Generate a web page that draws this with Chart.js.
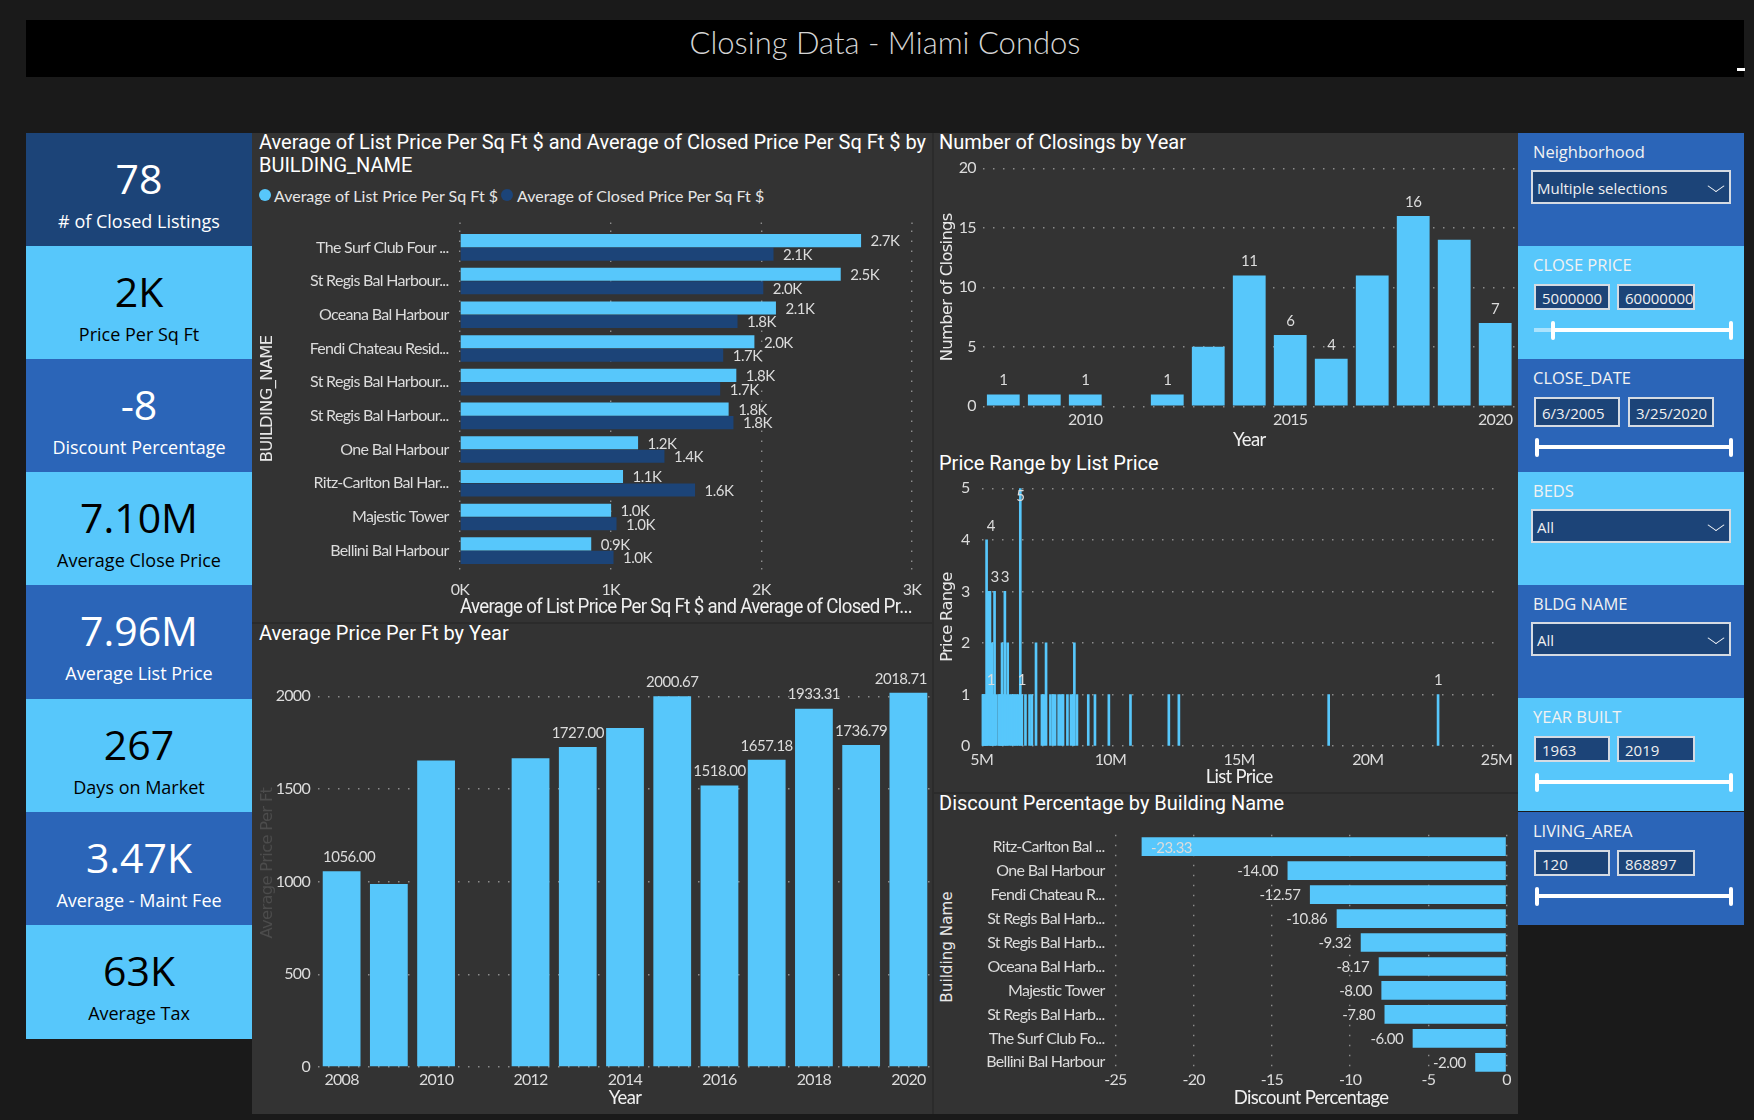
<!DOCTYPE html>
<html>
<head>
<meta charset="utf-8">
<title>Closing Data - Miami Condos</title>
<script src="https://cdn.jsdelivr.net/npm/chart.js@4"></script>
<style>
    html, body { margin: 0; width: 1754px; height: 1120px; overflow: hidden; background: #1a1a1a; }
    body { position: relative; font-family: "Open Sans", sans-serif; color: #fff; }
    div, canvas { position: absolute; box-sizing: border-box; }
    #header { left: 26px; top: 20px; width: 1718px; height: 57px; background: #000; color: #d4d4d4;
        font: 300 31px Lato, sans-serif; text-align: center; line-height: 45px; }
    #panel { left: 252px; top: 133px; width: 1266px; height: 981px; background: #333; }
    .rule { background: #2b2b2b; }
    .kpi { left: 26px; width: 226px; height: 114px; text-align: center; }
    .kpi .num { left: 0; right: 0; top: 17px; font-size: 41px; line-height: 56px; }
    .kpi .cap { left: 0; right: 0; top: 76px; font-size: 18px; line-height: 24px; }
    .title { font: 400 20px Roboto, sans-serif; color: #fff; white-space: nowrap; line-height: 22px; }
    .legend { font: 16px Lato, sans-serif; color: #e6e6e6; white-space: nowrap; }
    .dot { width: 12px; height: 12px; border-radius: 6px; }
    .slicer { left: 1518px; width: 226px; height: 113px; }
    .box { background: #1c4478; border: 2px solid #d5dbe3; font-size: 15px; padding-left: 4px; color: #f0f0f0; white-space: nowrap; overflow: hidden; }
    .track { height: 4px; background: #fff; }
    .handle { width: 4px; height: 19px; background: #fff; border-radius: 2px; }
</style>
</head>
<body>
<div id="panel"></div>
<div id="header">Closing Data - Miami Condos</div>
<div style="left:1737px;top:68px;width:8px;height:3px;background:#fff"></div>

<script>
// data
const kpiValues = ['78', '2K', '-8', '7.10M', '7.96M', '267', '3.47K', '63K'];
const kpiCaptions = ['# of Closed Listings', 'Price Per Sq Ft', 'Discount Percentage', 'Average Close Price', 'Average List Price', 'Days on Market', 'Average - Maint Fee', 'Average Tax'];

const buildingNames = ['The Surf Club Four ...', 'St Regis Bal Harbour...', 'Oceana Bal Harbour', 'Fendi Chateau Resid...', 'St Regis Bal Harbour...', 'St Regis Bal Harbour...', 'One Bal Harbour', 'Ritz-Carlton Bal Har...', 'Majestic Tower', 'Bellini Bal Harbour'];
const listPricePerSqFt = [2662, 2527, 2097, 1954, 1834, 1783, 1182, 1082, 1003, 871];
const closedPricePerSqFt = [2081, 2013, 1842, 1747, 1727, 1815, 1357, 1560, 1039, 1019];

const years = [2008, 2009, 2010, 2011, 2012, 2013, 2014, 2015, 2016, 2017, 2018, 2019, 2020];
const avgPricePerFt = [1056, 987, 1653, null, 1665, 1727, 1829, 2000.67, 1518, 1657.18, 1933.31, 1736.79, 2018.71];
const avgPriceLabels = ['1056.00', null, null, null, null, '1727.00', null, '2000.67', '1518.00', '1657.18', '1933.31', '1736.79', '2018.71'];
const avgPriceTicks = [0, 500, 1000, 1500, 2000];
const closingCounts = [1, 1, 1, 0, 1, 5, 11, 6, 4, 11, 16, 14, 7];
const closingLabels = ['1', null, '1', null, '1', null, '11', '6', '4', null, '16', null, '7'];

// list price in millions and number of listings at that price
const listPrices = [5.00, 5.04, 5.08, 5.12, 5.16, 5.19, 5.25, 5.32, 5.36, 5.40, 5.45, 5.50, 5.56, 5.66, 5.70, 5.75, 5.79, 5.83, 5.90, 5.96, 6.01, 6.10, 6.17, 6.23, 6.30, 6.36, 6.43, 6.50, 6.56, 6.70, 6.86, 6.95, 7.11, 7.34, 7.41, 7.50, 7.67, 7.77, 7.85, 7.99, 8.08, 8.16, 8.33, 8.47, 8.56, 8.60, 8.70, 9.14, 9.40, 9.94, 10.78, 12.27, 12.66, 18.48, 22.73];
const priceRangeCounts = [1, 1, 1, 1, 1, 4, 3, 3, 1, 2, 1, 3, 1, 1, 1, 1, 2, 1, 3, 1, 2, 1, 1, 1, 1, 1, 1, 5, 1, 1, 1, 1, 2, 1, 1, 2, 1, 1, 1, 1, 1, 1, 1, 1, 1, 2, 1, 1, 1, 1, 1, 1, 1, 1, 1];
const priceRangeLabels = { 2: '1', 5: '4', 11: '3', 18: '3', 27: '5', 28: '1', 54: '1' };

const discountBuildings = ['Ritz-Carlton Bal ...', 'One Bal Harbour', 'Fendi Chateau R...', 'St Regis Bal Harb...', 'St Regis Bal Harb...', 'Oceana Bal Harb...', 'Majestic Tower', 'St Regis Bal Harb...', 'The Surf Club Fo...', 'Bellini Bal Harbour'];
const discountValues = [-23.33, -14, -12.57, -10.86, -9.32, -8.17, -8, -7.8, -6, -2];

const LIGHT = '#57c7fb', NAVY = '#1c4478', MID = '#2b65b8';
const LABEL_FONT = 'Lato, sans-serif';
const WIDE = '"DejaVu Sans", sans-serif';

// html helpers
function addDiv(className, css, text) {
    const el = document.createElement('div');
    el.className = className;
    el.style.cssText = css;
    if (text !== undefined) el.textContent = text;
    document.body.appendChild(el);
    return el;
}

// kpi cards
const kpiColors = [NAVY, LIGHT, MID, LIGHT, MID, LIGHT, MID, LIGHT];
kpiValues.forEach((value, i) => {
    const dark = kpiColors[i] === LIGHT;
    const card = addDiv('kpi', `top:${133 + i * 113.1}px;background:${kpiColors[i]};color:${dark ? '#000' : '#fff'}`);
    card.innerHTML = `<div class="num">${value}</div><div class="cap">${kpiCaptions[i]}</div>`;
});

// panel dividers
addDiv('rule', 'left:932px;top:133px;width:2px;height:981px');
addDiv('rule', 'left:252px;top:622px;width:681px;height:2px');
addDiv('rule', 'left:933px;top:792px;width:585px;height:2px');

// panel titles and legend
addDiv('title', 'left:259px;top:131px', 'Average of List Price Per Sq Ft $ and Average of Closed Price Per Sq Ft $ by');
addDiv('title', 'left:259px;top:154px', 'BUILDING_NAME');
addDiv('title', 'left:259px;top:622px', 'Average Price Per Ft by Year');
addDiv('title', 'left:939px;top:131px', 'Number of Closings by Year');
addDiv('title', 'left:939px;top:452px', 'Price Range by List Price');
addDiv('title', 'left:939px;top:792px', 'Discount Percentage by Building Name');
addDiv('dot', `left:259px;top:189px;background:${LIGHT}`);
addDiv('legend', 'left:274px;top:186px', 'Average of List Price Per Sq Ft $');
addDiv('dot', `left:501px;top:189px;background:${NAVY}`);
addDiv('legend', 'left:517px;top:186px', 'Average of Closed Price Per Sq Ft $');

// this axis title sits above the middle of its plot
addDiv('', `left:947px;top:947px;font:15.2px ${WIDE};color:#e8e8e8;white-space:nowrap;transform:translate(-50%,-50%) rotate(-90deg)`, 'Building Name');

// slicers
const slicers = [
    { name: 'Neighborhood', top: 133, color: MID, drop: 'Multiple selections' },
    { name: 'CLOSE PRICE', top: 246, color: LIGHT, inputs: ['5000000', '60000000'], handle: 1553 },
    { name: 'CLOSE_DATE', top: 359, color: MID, inputs: ['6/3/2005', '3/25/2020'], wide: true },
    { name: 'BEDS', top: 472, color: LIGHT, drop: 'All' },
    { name: 'BLDG NAME', top: 585, color: MID, drop: 'All' },
    { name: 'YEAR BUILT', top: 698, color: LIGHT, inputs: ['1963', '2019'] },
    { name: 'LIVING_AREA', top: 812, color: MID, inputs: ['120', '868897'] },
];
slicers.forEach(s => {
    addDiv('slicer', `top:${s.top}px;background:${s.color}`);
    addDiv('', `left:1533px;top:${s.top + 8}px;font-size:16.5px;line-height:22px;color:#f2f2f2;white-space:nowrap`, s.name);
    if (s.drop) {
        addDiv('box', `left:1531px;top:${s.top + 37}px;width:200px;height:34px;line-height:32px`, s.drop);
        addDiv('', `left:1710px;top:${s.top + 47}px;width:12px;height:12px;border-right:1.5px solid #fff;border-bottom:1.5px solid #fff;transform:scaleY(.7) rotate(45deg)`);
    } else {
        const w1 = s.wide ? 86 : 76, w2 = s.wide ? 86 : 78, gap = s.wide ? 8 : 7, h = s.wide ? 30 : 26;
        const css = `top:${s.top + 38}px;height:${h}px;line-height:${h - 2}px;padding-left:6px`;
        addDiv('box', `left:1534px;width:${w1}px;${css}`, s.inputs[0]);
        addDiv('box', `left:${1534 + w1 + gap}px;width:${w2}px;${css}`, s.inputs[1]);
        const y = s.top + 84 + (s.wide ? 4 : 0);
        addDiv('track', `left:${s.handle || 1537}px;top:${y - 2}px;width:${1731 - (s.handle || 1537)}px`);
        if (s.handle) addDiv('track', `left:1534px;top:${y - 2}px;width:20px;opacity:.5`);
        addDiv('handle', `left:${(s.handle || 1537) - 2}px;top:${y - 9.5}px`);
        addDiv('handle', `left:1729px;top:${y - 9.5}px`);
    }
});

// value labels on the bars
const barLabels = {
    id: 'barLabels',
    afterDatasetsDraw(chart, args, opts) {
        if (!opts.text) return;
        const ctx = chart.ctx, area = chart.chartArea;
        ctx.save();
        ctx.font = `15px ${LABEL_FONT}`;
        ctx.letterSpacing = '-0.5px';
        ctx.fillStyle = '#dcdcdc';
        ctx.textBaseline = 'middle';
        chart.data.datasets.forEach((ds, d) => {
            chart.getDatasetMeta(d).data.forEach((bar, i) => {
                const label = opts.text(d, i);
                if (!label) return;
                const w = ctx.measureText(label).width;
                if (chart.options.indexAxis === 'y') {
                    let x = bar.x + 9.5;
                    let align = 'left';
                    if (ds.data[i] < 0) {
                        x = bar.x - 9.5;
                        align = 'right';
                        if (x - w < area.left) { x = bar.x + 9.5; align = 'left'; }
                    }
                    ctx.textAlign = align;
                    ctx.fillText(label, x, bar.y + 1);
                } else {
                    let y = bar.y - 14;
                    if (y - 7 < area.top) y = area.top + 8;
                    const x = Math.min(Math.max(bar.x, area.left + 5 + w / 2), area.right - 5 - w / 2);
                    ctx.textAlign = 'center';
                    ctx.fillText(label, x, y);
                }
            });
        });
        ctx.restore();
    },
};

// grid lines of the top left chart run past the plot
const gridPastTop = {
    id: 'gridPastTop',
    beforeDatasetsDraw(chart, args, opts) {
        if (!opts.by) return;
        const ctx = chart.ctx, scale = chart.scales.x;
        ctx.save();
        ctx.strokeStyle = GRID.color;
        ctx.lineWidth = GRID.lineWidth;
        ctx.setLineDash(DOTS);
        scale.ticks.forEach((t, i) => {
            const x = scale.getPixelForTick(i);
            ctx.beginPath();
            ctx.moveTo(x, chart.chartArea.top - opts.by);
            ctx.lineTo(x, chart.chartArea.top);
            ctx.stroke();
        });
        ctx.restore();
    },
};

// the reference text is narrow, no condensed font is installed
const tightText = {
    id: 'tightText',
    beforeDraw(chart) {
        chart.ctx.letterSpacing = '-0.7px';
    },
};
Chart.register(barLabels, gridPastTop, tightText);

const DOTS = [1.5, 8.5];
const GRID = { color: '#8c8c8c', lineWidth: 1.4, drawTicks: false };
const NOGRID = { display: false, drawTicks: false };
const NOBORDER = { display: false };
const DOTBORDER = { display: false, dash: DOTS };

function tickFont(size) { return { family: LABEL_FONT, size: size || 16 }; }

function axisTitle(text, family, size, color, pad) {
    return {
        display: true, text: text, color: color || '#e8e8e8',
        font: { family: family, size: size },
        padding: { top: pad, bottom: pad },
    };
}

// box: canvas position, plot: space around the plot area
function makeChart(box, plot, config) {
    const canvas = document.createElement('canvas');
    canvas.width = box.w;
    canvas.height = box.h;
    canvas.style.cssText = `left:${box.x}px;top:${box.y}px;width:${box.w}px;height:${box.h}px`;
    document.body.appendChild(canvas);
    config.options.responsive = false;
    config.options.animation = false;
    config.options.layout = { padding: { top: plot.top, right: plot.right, left: 0, bottom: 0 } };
    config.options.plugins = Object.assign({ legend: { display: false }, tooltip: { enabled: false } }, config.options.plugins);
    config.options.scales.y.afterFit = s => { s.width = plot.left; };
    config.options.scales.x.afterFit = s => { s.height = plot.bottom; };
    return new Chart(canvas.getContext('2d'), config);
}

// Average of List / Closed Price by building
makeChart({ x: 252, y: 205, w: 681, h: 418 }, { left: 208, right: 21, top: 25.5, bottom: 55.5 }, {
    type: 'bar',
    data: {
        labels: buildingNames,
        datasets: [
            { data: listPricePerSqFt, backgroundColor: LIGHT, categoryPercentage: 0.8, barPercentage: 0.97 },
            { data: closedPricePerSqFt, backgroundColor: NAVY, categoryPercentage: 0.8, barPercentage: 0.97 },
        ],
    },
    options: {
        indexAxis: 'y',
        plugins: {
            gridPastTop: { by: 8 },
            barLabels: { text: (d, i) => ((d === 0 ? listPricePerSqFt : closedPricePerSqFt)[i] / 1000).toFixed(1) + 'K' },
        },
        scales: {
            x: {
                min: 0, max: 3000,
                grid: { ...GRID, drawTicks: true, tickLength: 10, tickBorderDash: DOTS, tickColor: GRID.color },
                border: DOTBORDER,
                ticks: { stepSize: 1000, color: '#dcdcdc', font: tickFont(), padding: 3, maxRotation: 0, callback: v => v / 1000 + 'K' },
                title: axisTitle('Average of List Price Per Sq Ft $ and Average of Closed Pr...', 'Roboto, sans-serif', 19.5, '#f0f0f0', 3),
            },
            y: {
                grid: NOGRID, border: NOBORDER,
                ticks: { color: '#dcdcdc', font: tickFont(), padding: 11.5, autoSkip: false },
                title: axisTitle('BUILDING_NAME', WIDE, 16.4, '#e8e8e8', 6),
            },
        },
    },
});

// Average Price Per Ft by Year
makeChart({ x: 252, y: 623, w: 681, h: 491 }, { left: 66, right: 1, top: 36.2, bottom: 47 }, {
    type: 'bar',
    data: { labels: years, datasets: [{ data: avgPricePerFt, backgroundColor: LIGHT, categoryPercentage: 1, barPercentage: 0.8 }] },
    options: {
        plugins: { barLabels: { text: (d, i) => avgPriceLabels[i] } },
        scales: {
            x: {
                grid: NOGRID, border: NOBORDER,
                ticks: { color: '#dcdcdc', font: tickFont(), padding: 3, autoSkip: false, maxRotation: 0, callback(v) { const y = this.getLabelForValue(v); return y % 2 === 0 ? y : ''; } },
                title: axisTitle('Year', LABEL_FONT, 18.5, '#f0f0f0', 5),
            },
            y: {
                min: 0, max: 2200,
                afterBuildTicks: s => { s.ticks = avgPriceTicks.map(v => ({ value: v })); },
                grid: GRID, border: DOTBORDER,
                ticks: { color: '#dcdcdc', font: tickFont(), padding: 8, callback: v => v },
                title: axisTitle('Average Price Per Ft', WIDE, 16.4, '#4c4c4c', 6),
            },
        },
    },
});

// Number of Closings by Year
makeChart({ x: 933, y: 133, w: 585, h: 318 }, { left: 49.8, right: 2.3, top: 35.3, bottom: 44.7 }, {
    type: 'bar',
    data: { labels: years, datasets: [{ data: closingCounts, backgroundColor: LIGHT, categoryPercentage: 1, barPercentage: 0.8 }] },
    options: {
        plugins: { barLabels: { text: (d, i) => closingLabels[i] } },
        scales: {
            x: {
                grid: NOGRID, border: NOBORDER,
                ticks: { color: '#dcdcdc', font: tickFont(), padding: 4, autoSkip: false, maxRotation: 0, callback(v) { const y = this.getLabelForValue(v); return y % 5 === 0 ? y : ''; } },
                title: axisTitle('Year', LABEL_FONT, 18.5, '#f0f0f0', 0),
            },
            y: {
                min: 0, max: 20,
                grid: GRID, border: DOTBORDER,
                ticks: { stepSize: 5, color: '#dcdcdc', font: tickFont(), padding: 7 },
                title: axisTitle('Number of Closings', WIDE, 16.4, '#e8e8e8', 5),
            },
        },
    },
});

// Price Range by List Price
makeChart({ x: 933, y: 451, w: 585, h: 342 }, { left: 48.7, right: 21.5, top: 37.3, bottom: 47 }, {
    type: 'bar',
    data: {
        datasets: [{
            data: listPrices.map((p, i) => ({ x: p, y: priceRangeCounts[i] })),
            backgroundColor: LIGHT, barThickness: 2,
        }],
    },
    options: {
        plugins: { barLabels: { text: (d, i) => priceRangeLabels[i] } },
        scales: {
            x: {
                type: 'linear', min: 5, max: 25, offset: false,
                grid: NOGRID, border: NOBORDER,
                ticks: { stepSize: 5, color: '#dcdcdc', font: tickFont(), padding: 4, maxRotation: 0, callback: v => v + 'M' },
                title: axisTitle('List Price', LABEL_FONT, 18.5, '#f0f0f0', 5),
            },
            y: {
                min: 0, max: 5,
                grid: GRID, border: DOTBORDER,
                ticks: { stepSize: 1, color: '#dcdcdc', font: tickFont(), padding: 12 },
                title: axisTitle('Price Range', WIDE, 16.4, '#e8e8e8', 5),
            },
        },
    },
});

// Discount Percentage by Building Name
makeChart({ x: 933, y: 793, w: 585, h: 321 }, { left: 182.5, right: 11.5, top: 41.7, bottom: 39.7 }, {
    type: 'bar',
    data: { labels: discountBuildings, datasets: [{ data: discountValues, backgroundColor: LIGHT, categoryPercentage: 1, barPercentage: 0.78 }] },
    options: {
        indexAxis: 'y',
        plugins: { barLabels: { text: (d, i) => discountValues[i].toFixed(2) } },
        scales: {
            x: {
                min: -25, max: 0,
                grid: GRID, border: DOTBORDER,
                ticks: { stepSize: 5, color: '#dcdcdc', font: tickFont(), padding: -4, maxRotation: 0 },
                title: axisTitle('Discount Percentage', LABEL_FONT, 18.5, '#f0f0f0', 5),
            },
            y: {
                grid: NOGRID, border: NOBORDER,
                ticks: { color: '#dcdcdc', font: tickFont(), padding: 11, autoSkip: false },
            },
        },
    },
});
</script>
</body>
</html>
